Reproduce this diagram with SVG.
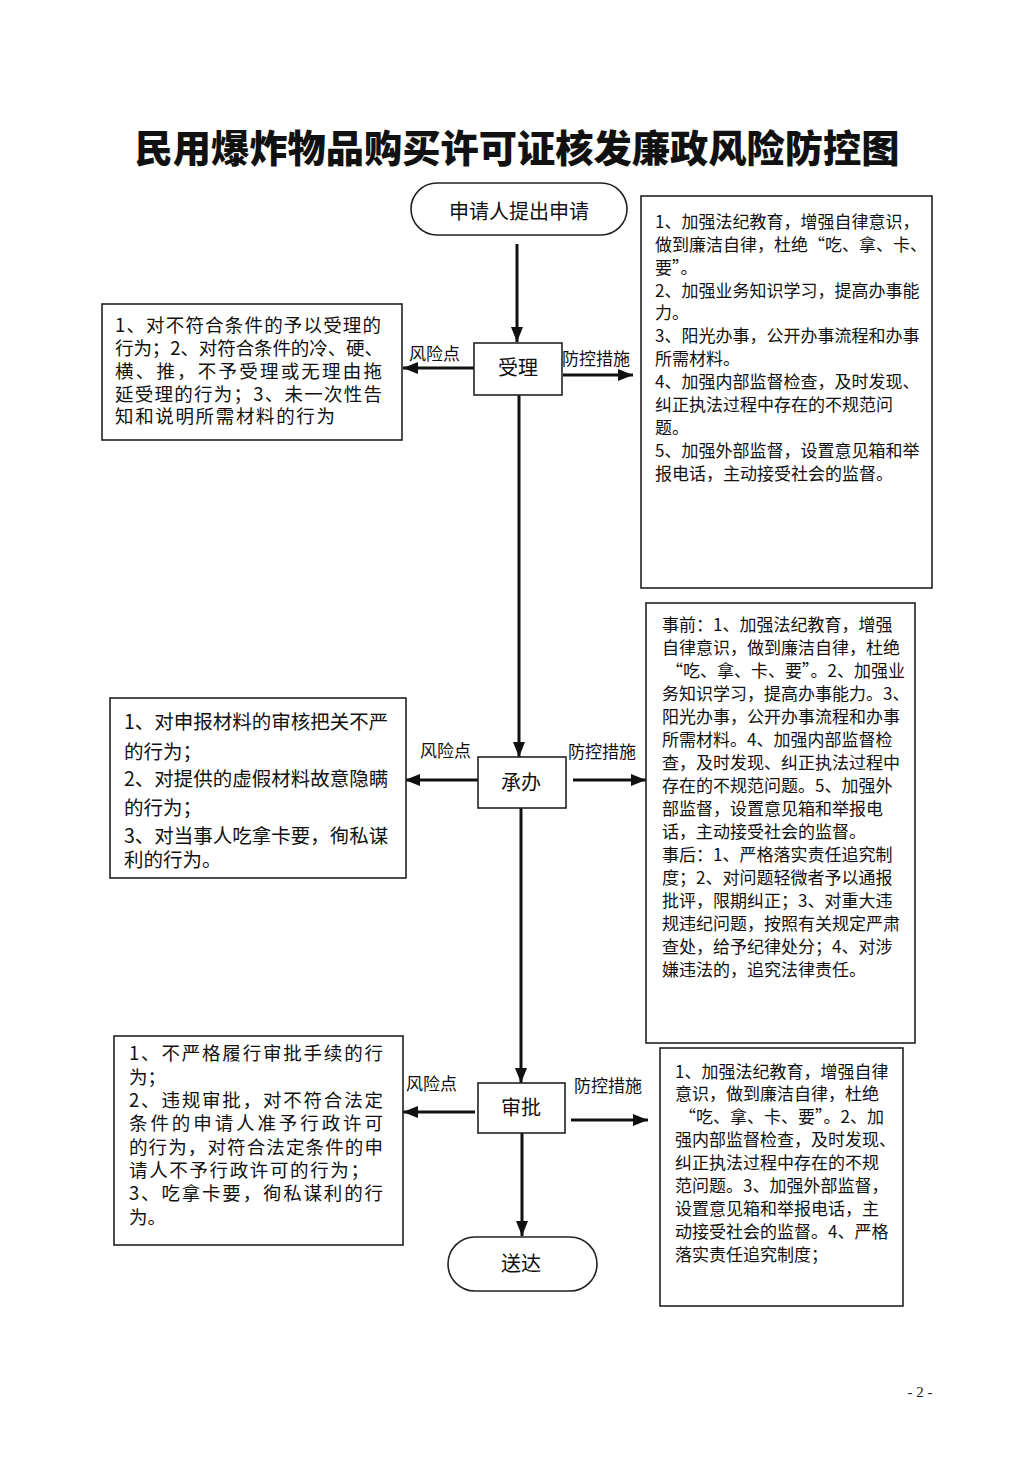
<svg xmlns="http://www.w3.org/2000/svg" width="1033" height="1463" viewBox="0 0 1033 1463">
<style>
.t{font-family:"Noto Sans CJK SC","Noto Sans",sans-serif;fill:#111;}
.title{font-size:38px;font-weight:900;}
.node{fill:#fff;stroke:#222;stroke-width:1.6;}
.box{fill:#fff;stroke:#222;stroke-width:1.6;}
.c{font-size:20px;text-anchor:middle;}
.lab{font-size:17px;}
.r{font-size:17px;}
.l{font-size:19.5px;}
.s{font-size:18.5px;}
.pg{font-family:"Liberation Serif",serif;font-size:15px;fill:#222;}
.conn line{stroke:#111;stroke-width:3;marker-end:url(#ah);}
</style>
<defs>
<marker id="ah" markerUnits="userSpaceOnUse" markerWidth="16" markerHeight="14" refX="15" refY="7" orient="auto">
<path d="M0,1 L15,7 L0,13 z" fill="#111"/>
</marker>
</defs>
<rect width="1033" height="1463" fill="#fff"/>
<text class="t title" x="517" y="162" text-anchor="middle" textLength="765" lengthAdjust="spacingAndGlyphs">民用爆炸物品购买许可证核发廉政风险防控图</text>

<g class="conn" id="connectors">
<line x1="517" y1="244" x2="517" y2="342"/>
<line x1="519" y1="395" x2="519" y2="757"/>
<line x1="521" y1="808" x2="521" y2="1083"/>
<line x1="522" y1="1133" x2="522" y2="1236"/>
<line x1="474" y1="368" x2="403" y2="368"/>
<line x1="563" y1="375" x2="633" y2="375"/>
<line x1="478" y1="780" x2="405" y2="780"/>
<line x1="573" y1="780" x2="646" y2="780"/>
<line x1="475" y1="1112" x2="403" y2="1112"/>
<line x1="571" y1="1120" x2="648" y2="1120"/>
</g>

<g id="labels">
<text class="t lab" x="409" y="360">风险点</text>
<text class="t lab" x="562" y="365">防控措施</text>
<text class="t lab" x="420" y="757">风险点</text>
<text class="t lab" x="568" y="758">防控措施</text>
<text class="t lab" x="406" y="1090">风险点</text>
<text class="t lab" x="574" y="1092">防控措施</text>
</g>

<g id="start">
<rect class="node" x="411" y="183" width="216" height="52" rx="26"/>
<text class="t c" x="519" y="219">申请人提出申请</text>
</g>

<g id="shouli">
<rect class="node" x="474" y="343" width="88" height="52"/>
<text class="t c" x="518" y="375">受理</text>
</g>

<g id="chengban">
<rect class="node" x="478" y="757" width="88" height="51"/>
<text class="t c" x="521" y="790">承办</text>
</g>

<g id="shenpi">
<rect class="node" x="478" y="1083" width="87" height="50"/>
<text class="t c" x="521" y="1115">审批</text>
</g>

<g id="songda">
<rect class="node" x="448" y="1237" width="149" height="54" rx="27"/>
<text class="t c" x="521" y="1271">送达</text>
</g>

<g id="risk1">
<rect class="box" x="102" y="304" width="300" height="136"/>
<text class="t s" x="115" y="332" textLength="266">1、对不符合条件的予以受理的</text>
<text class="t s" x="115" y="355" textLength="268">行为；2、对符合条件的冷、硬、</text>
<text class="t s" x="115" y="378" textLength="267">横、推，不予受理或无理由拖</text>
<text class="t s" x="115" y="401" textLength="267">延受理的行为；3、未一次性告</text>
<text class="t s" x="115" y="423" textLength="220">知和说明所需材料的行为</text>
</g>

<g id="measure1">
<rect class="box" x="641" y="196" width="291" height="392"/>
<text class="t r" x="655" y="228">1、加强法纪教育，增强自律意识，</text>
<text class="t r" x="655" y="251">做到廉洁自律，杜绝“吃、拿、卡、</text>
<text class="t r" x="655" y="274">要”。</text>
<text class="t r" x="655" y="297">2、加强业务知识学习，提高办事能</text>
<text class="t r" x="655" y="319">力。</text>
<text class="t r" x="655" y="342">3、阳光办事，公开办事流程和办事</text>
<text class="t r" x="655" y="365">所需材料。</text>
<text class="t r" x="655" y="388">4、加强内部监督检查，及时发现、</text>
<text class="t r" x="655" y="411">纠正执法过程中存在的不规范问</text>
<text class="t r" x="655" y="434">题。</text>
<text class="t r" x="655" y="457">5、加强外部监督，设置意见箱和举</text>
<text class="t r" x="655" y="480">报电话，主动接受社会的监督。</text>
</g>

<g id="risk2">
<rect class="box" x="110" y="698" width="296" height="180"/>
<text class="t l" x="124" y="729">1、对申报材料的审核把关不严</text>
<text class="t l" x="124" y="759">的行为；</text>
<text class="t l" x="124" y="786">2、对提供的虚假材料故意隐瞒</text>
<text class="t l" x="124" y="815">的行为；</text>
<text class="t l" x="124" y="843">3、对当事人吃拿卡要，徇私谋</text>
<text class="t l" x="124" y="867">利的行为。</text>
</g>

<g id="measure2">
<rect class="box" x="646" y="603" width="269" height="440"/>
<text class="t r" x="662" y="631">事前：1、加强法纪教育，增强</text>
<text class="t r" x="662" y="654">自律意识，做到廉洁自律，杜绝</text>
<text class="t r" x="666" y="677">“吃、拿、卡、要”。2、加强业</text>
<text class="t r" x="662" y="700">务知识学习，提高办事能力。3、</text>
<text class="t r" x="662" y="723">阳光办事，公开办事流程和办事</text>
<text class="t r" x="662" y="746">所需材料。4、加强内部监督检</text>
<text class="t r" x="662" y="769">查，及时发现、纠正执法过程中</text>
<text class="t r" x="662" y="792">存在的不规范问题。5、加强外</text>
<text class="t r" x="662" y="815">部监督，设置意见箱和举报电</text>
<text class="t r" x="662" y="838">话，主动接受社会的监督。</text>
<text class="t r" x="662" y="861">事后：1、严格落实责任追究制</text>
<text class="t r" x="662" y="884">度；2、对问题轻微者予以通报</text>
<text class="t r" x="662" y="907">批评，限期纠正；3、对重大违</text>
<text class="t r" x="662" y="930">规违纪问题，按照有关规定严肃</text>
<text class="t r" x="662" y="953">查处，给予纪律处分；4、对涉</text>
<text class="t r" x="662" y="976">嫌违法的，追究法律责任。</text>
</g>

<g id="risk3">
<rect class="box" x="114" y="1036" width="289" height="209"/>
<text class="t s" x="129" y="1060" textLength="254">1、不严格履行审批手续的行</text>
<text class="t s" x="129" y="1084">为；</text>
<text class="t s" x="129" y="1107" textLength="254">2、违规审批，对不符合法定</text>
<text class="t s" x="129" y="1130" textLength="254">条件的申请人准予行政许可</text>
<text class="t s" x="129" y="1154" textLength="254">的行为，对符合法定条件的申</text>
<text class="t s" x="129" y="1177" textLength="240">请人不予行政许可的行为；</text>
<text class="t s" x="129" y="1200" textLength="254">3、吃拿卡要，徇私谋利的行</text>
<text class="t s" x="129" y="1224">为。</text>
</g>

<g id="measure3">
<rect class="box" x="660" y="1048" width="243" height="258"/>
<text class="t r" x="675" y="1078">1、加强法纪教育，增强自律</text>
<text class="t r" x="675" y="1100">意识，做到廉洁自律，杜绝</text>
<text class="t r" x="679" y="1123">“吃、拿、卡、要”。2、加</text>
<text class="t r" x="675" y="1146">强内部监督检查，及时发现、</text>
<text class="t r" x="675" y="1169">纠正执法过程中存在的不规</text>
<text class="t r" x="675" y="1192">范问题。3、加强外部监督，</text>
<text class="t r" x="675" y="1215">设置意见箱和举报电话，主</text>
<text class="t r" x="675" y="1238">动接受社会的监督。4、严格</text>
<text class="t r" x="675" y="1261">落实责任追究制度；</text>
</g>

<text class="pg" x="920" y="1397" text-anchor="middle">- 2 -</text>
</svg>
